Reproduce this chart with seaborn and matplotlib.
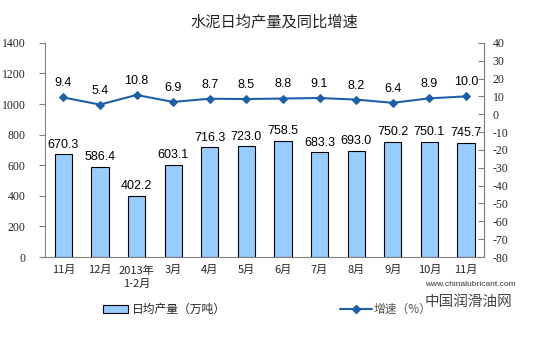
import matplotlib
matplotlib.use("Agg")
import matplotlib.pyplot as plt
import seaborn as sns
import pandas as pd
import numpy as np
from matplotlib.patches import Rectangle
from matplotlib.lines import Line2D

categories = ["11月", "12月", "2013年\n1-2月", "3月", "4月", "5月", "6月", "7月", "8月", "9月", "10月", "11月"]
output = [670.3, 586.4, 402.2, 603.1, 716.3, 723.0, 758.5, 683.3, 693.0, 750.2, 750.1, 745.7]
growth = [9.4, 5.4, 10.8, 6.9, 8.7, 8.5, 8.8, 9.1, 8.2, 6.4, 8.9, 10.0]
left_ticks = [0, 200, 400, 600, 800, 1000, 1200, 1400]
right_ticks = [-80, -70, -60, -50, -40, -30, -20, -10, 0, 10, 20, 30, 40]

sns.set_style("white")
plt.rcParams['font.family'] = ['Noto Sans CJK SC', 'DejaVu Sans']

n = len(categories)
df = pd.DataFrame({"pos": np.arange(n), "output": output, "growth": growth})

fig = plt.figure(figsize=(5.49, 3.4), dpi=100)
ax = fig.add_axes([0.082, 0.244, 0.800, 0.630])
sns.barplot(data=df, x="pos", y="output", ax=ax, color="#99CCFF", saturation=1,
            edgecolor="#000000", linewidth=0.8, width=0.47, errorbar=None)
ax.set_ylim(0, 1400)
ax.set_xlim(-0.5, n - 0.5)
ax.set_yticks(left_ticks)
ax.set_yticklabels([str(t) for t in left_ticks], family="Liberation Serif", fontsize=8.5)
ax.set_xlabel("")
ax.set_ylabel("")
ax.set_xticks(range(n))
ax.set_xticklabels(categories, fontsize=8, linespacing=1.4)
ax.tick_params(axis="x", length=0, pad=6)
ax.tick_params(axis="y", length=4, direction="out", color="#808080", pad=10)
ax.spines["top"].set_visible(False)
for s in ["left", "bottom", "right"]:
    ax.spines[s].set_color("#808080")
    ax.spines[s].set_linewidth(0.8)

for i, v in enumerate(output):
    ax.text(i, v + 25, f"{v:.1f}", ha="center", va="bottom", fontsize=9,
            family="Liberation Sans", color="#000000")

ax2 = ax.twinx()
sns.lineplot(data=df, x="pos", y="growth", ax=ax2, color="#1F5FA8", marker="D",
             markersize=4, linewidth=1.5, markeredgecolor="#1F5FA8")
ax2.set_ylim(-80, 40)
ax2.set_yticks(right_ticks)
ax2.set_yticklabels([str(t) for t in right_ticks], family="Liberation Serif", fontsize=8.5)
ax2.set_ylabel("")
ax2.set_xlabel("")
ax2.tick_params(axis="y", length=4, direction="in", color="#808080", pad=6)
ax2.spines["top"].set_visible(False)
ax2.spines["right"].set_color("#808080")
ax2.spines["left"].set_visible(False)
ax2.spines["bottom"].set_visible(False)
ax2.set_xlim(-0.5, n - 0.5)
for i, v in enumerate(growth):
    ax2.text(i, v + 4.5, f"{v:.1f}", ha="center", va="bottom", fontsize=9,
             family="Liberation Sans", color="#000000")

fig.text(0.5, 0.935, "水泥日均产量及同比增速", ha="center", va="center", fontsize=11)

# legend
fig.patches.append(Rectangle((103 / 549, 1 - 313 / 340), 25 / 549, 8 / 340, transform=fig.transFigure,
                             facecolor="#99CCFF", edgecolor="#000000", linewidth=0.8))
fig.text(132 / 549, 1 - 309 / 340, "日均产量（万吨）", ha="left", va="center", fontsize=8.5)
fig.lines.append(Line2D([340 / 549, 372 / 549], [1 - 309 / 340, 1 - 309 / 340], transform=fig.transFigure,
                        color="#1F5FA8", linewidth=1.5))
fig.lines.append(Line2D([356 / 549], [1 - 309 / 340], transform=fig.transFigure,
                        color="#1F5FA8", marker="D", markersize=4, linestyle="none"))
fig.text(374 / 549, 1 - 309 / 340, "增速（%）", ha="left", va="center", fontsize=8.5, color="#555555")

# source marks
fig.text(425 / 549, 1 - 285 / 340, "www.chinalubricant.com", ha="left", va="center", fontsize=6,
         family="Liberation Sans", color="#333333")
fig.text(425 / 549, 1 - 302 / 340, "中国润滑油网", ha="left", va="center", fontsize=10.5, color="#444444")

fig.savefig("out.png", dpi=100)
